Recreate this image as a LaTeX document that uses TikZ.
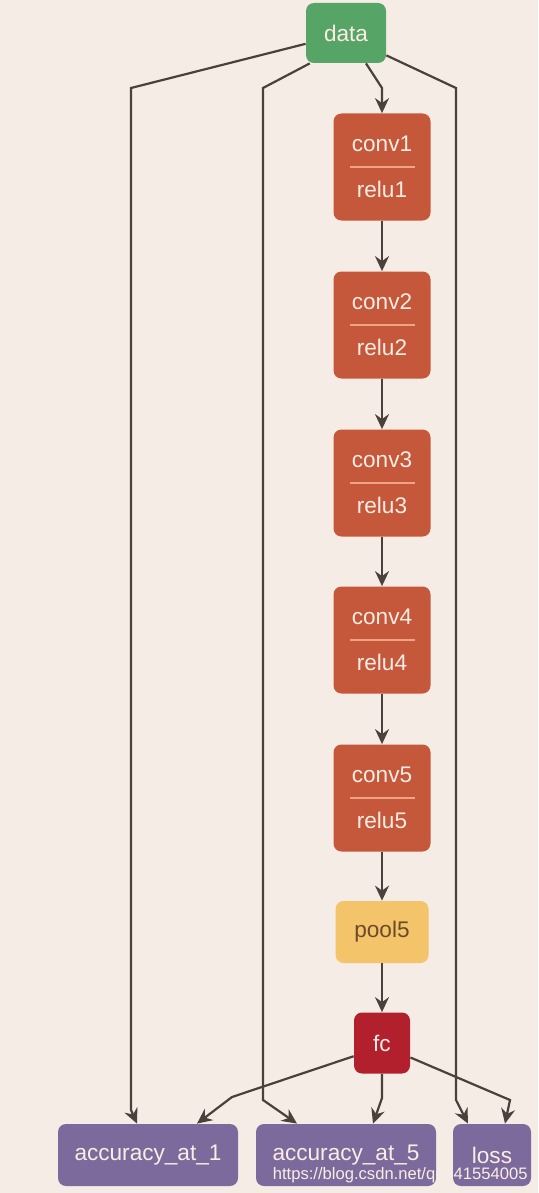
\documentclass[tikz,border=0pt]{standalone}
\usepackage{fontspec}
\setmainfont{Liberation Sans}
\usepackage{xcolor}
\usepackage{tikz}
\usetikzlibrary{arrows.meta,calc,positioning}
\definecolor{Paper}{HTML}{F5ECE6}
\definecolor{Edge}{HTML}{4B403B}
\definecolor{DataGreen}{HTML}{56A566}
\definecolor{ConvRed}{HTML}{C5573B}
\definecolor{PoolGold}{HTML}{F3C46A}
\definecolor{PoolInk}{HTML}{6B4A2A}
\definecolor{FcRed}{HTML}{B1202C}
\definecolor{LossPurple}{HTML}{7D6A9C}
\definecolor{Label}{HTML}{FBEDE3}
\definecolor{Divider}{HTML}{EDA585}
\begin{document}
\begin{tikzpicture}[x=0.5pt,y=-0.5pt,>={Stealth[length=7.5pt,width=7pt,inset=2.5pt]},
  layer/.style={rounded corners=4pt,text=Label,font=\fontsize{11.3}{13}\selectfont,inner sep=0pt},
  edge/.style={Edge,line width=1.1pt,->}]
  \fill[Paper] (0,0) rectangle (538,1193);
  % blobs
  \node[layer,fill=DataGreen,minimum width=40pt,minimum height=30pt] (data) at (346,33) {data};
  \foreach \i/\y in {1/167,2/325,3/483,4/640,5/798}
  {
    \node[layer,fill=ConvRed,minimum width=48.5pt,minimum height=53.5pt,align=center,
      font=\fontsize{11.3}{23}\selectfont] (conv\i) at (382,\y) {conv\i\\relu\i};
    \draw[Divider,line width=0.6pt] ($(conv\i.center)+(-32,0)$) -- ($(conv\i.center)+(33,0)$);
  }
  \node[layer,fill=PoolGold,text=PoolInk,minimum width=46.5pt,minimum height=31pt] (pool5) at (382,932) {pool5};
  \node[layer,fill=FcRed,minimum width=28pt,minimum height=30.5pt] (fc) at (382,1043) {fc};
  \node[layer,fill=LossPurple,minimum width=90pt,minimum height=31pt] (acc1) at (148,1155) {accuracy\_at\_1};
  \node[layer,fill=LossPurple,minimum width=90pt,minimum height=31pt] (acc5) at (346,1155) {accuracy\_at\_5};
  \node[layer,fill=LossPurple,minimum width=39pt,minimum height=31pt] (loss) at (492,1155) {loss};
  % main chain
  \draw[edge] ([xshift=10pt]data.south) -- (382,88) -- (conv1.north);
  \foreach \i/\j in {1/2,2/3,3/4,4/5}
    \draw[edge] (conv\i.south) -- (conv\j.north);
  \draw[edge] (conv5.south) -- (pool5.north);
  \draw[edge] (pool5.south) -- (fc.north);
  % side paths from data
  \draw[edge] (data.195) -- (131,88) -- (131,1110) -- ([xshift=-5.5pt]acc1.north);
  \draw[edge] (data.220) -- (263,88) -- (263,1100) -- ([xshift=-24.5pt]acc5.north);
  \draw[edge] (data.331) -- (456,88) -- (456,1100) -- ([xshift=-12pt]loss.north);
  % outputs of fc
  \draw[edge] (fc.205) -- (232,1097) -- ([xshift=24.5pt]acc1.north);
  \draw[edge] (fc.south) -- (382,1098) -- ([xshift=13.5pt]acc5.north);
  \draw[edge] (fc.333) -- (510,1100) -- ([xshift=6.5pt]loss.north);
  \node[Label,font=\fontsize{8.3}{9}\selectfont,anchor=east,inner sep=0pt] (mark) at (528,1175) {https://blog.csdn.net/qq\_41554005};
\end{tikzpicture}
\end{document}
